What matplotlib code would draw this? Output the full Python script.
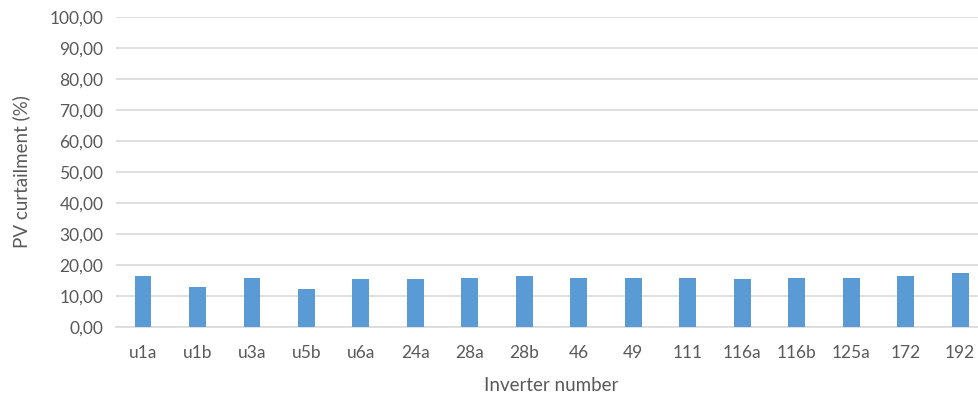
import matplotlib
matplotlib.use("Agg")
import matplotlib.pyplot as plt
from matplotlib.ticker import FuncFormatter

# Curtailment per inverter (%)
inverters = ["u1a", "u1b", "u3a", "u5b", "u6a", "24a", "28a", "28b",
             "46", "49", "111", "116a", "116b", "125a", "172", "192"]
curtailment = [16.4, 12.7, 15.8, 12.2, 15.3, 15.3, 15.8, 16.4,
               15.8, 15.8, 15.8, 15.3, 15.8, 15.8, 16.4, 17.4]
y_ticks = [0, 10, 20, 30, 40, 50, 60, 70, 80, 90, 100]

plt.rcParams['font.family'] = ['Lato', 'DejaVu Sans']
text_color = "#595959"
grid_color = "#d9d9d9"

fig = plt.figure(figsize=(9.79, 3.94), dpi=100)
ax = fig.add_axes([0.1183, 0.1708, 0.8902, 0.7868])

x = range(len(inverters))
ax.bar(x, curtailment, width=0.31, color="#5b9bd5", zorder=3)

ax.set_xlim(-0.5, len(inverters) - 0.5)
ax.set_ylim(0, 100)
ax.set_yticks(y_ticks)
ax.yaxis.set_major_formatter(FuncFormatter(lambda v, p: f"{v:.2f}".replace(".", ",")))
ax.set_xticks(list(x))
ax.set_xticklabels(inverters)

ax.grid(axis="y", color=grid_color, linewidth=1.2, zorder=0)
for side in ["top", "right", "left"]:
    ax.spines[side].set_visible(False)
ax.spines["bottom"].set_color(grid_color)
ax.spines["bottom"].set_linewidth(1.2)
ax.tick_params(length=0, labelsize=12.5, labelcolor=text_color)
ax.tick_params(axis="y", pad=9)
ax.tick_params(axis="x", pad=13)

ax.set_xlabel("Inverter number", fontsize=13.5, color=text_color, labelpad=12)
ax.set_ylabel("PV curtailment (%)", fontsize=13.5, color=text_color, labelpad=14)

fig.savefig("out.png", dpi=100)
